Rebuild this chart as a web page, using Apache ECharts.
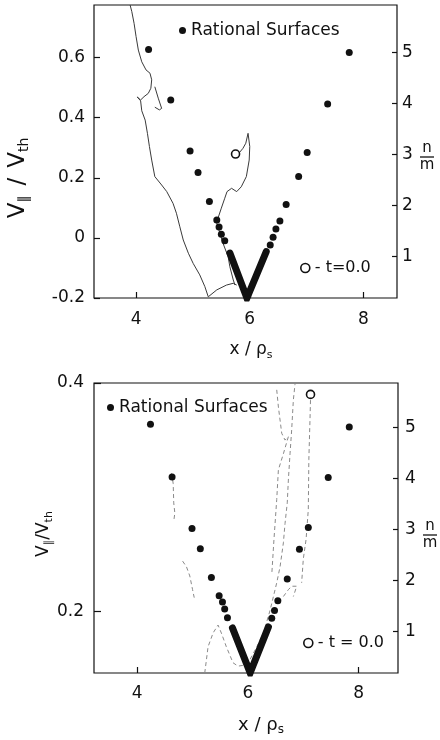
<!DOCTYPE html>
<html>
<head>
<meta charset="utf-8">
<script src="https://cdn.jsdelivr.net/npm/echarts@6/dist/echarts.min.js"></script>
<style>
  html, body { margin: 0; padding: 0; background: #fff; }
  #chart { width: 440px; height: 740px; }
</style>
</head>
<body>
<div id="chart"></div>
<script>
// ---- data ----
// top panel: rational surfaces (x/rho_s, n/m)
const topDots = [
  [4.22, 5.06], [4.61, 4.07], [4.95, 3.07], [5.09, 2.65], [5.29, 2.08],
  [5.42, 1.72], [5.46, 1.58], [5.50, 1.44], [5.56, 1.31],
  [6.36, 1.23], [6.41, 1.38], [6.46, 1.54], [6.53, 1.70], [6.64, 2.02],
  [6.86, 2.57], [7.01, 3.04], [7.37, 3.99], [7.75, 5.0]
]
// dense run of surfaces near the minimum (drawn as a thick V)
const topV = [[5.65, 1.07], [5.95, 0.19], [6.29, 1.10]]
// particle traces (x/rho_s, V||/Vth)
const topTraceA = [
  [3.895, 0.775], [3.925, 0.753], [3.965, 0.714], [4.0, 0.670], [4.04, 0.625],
  [4.10, 0.586], [4.175, 0.559], [4.245, 0.548], [4.275, 0.526], [4.26, 0.498],
  [4.215, 0.481], [4.14, 0.470], [4.08, 0.459], [4.02, 0.469], [4.08, 0.456],
  [4.10, 0.423], [4.16, 0.392], [4.20, 0.348], [4.235, 0.304], [4.275, 0.259],
  [4.33, 0.204], [4.45, 0.176], [4.54, 0.154], [4.65, 0.115], [4.71, 0.082],
  [4.77, 0.037], [4.83, -0.007], [4.92, -0.051], [5.005, -0.085], [5.12, -0.123],
  [5.21, -0.162], [5.27, -0.196], [5.30, -0.196], [5.42, -0.173], [5.59, -0.157],
  [5.71, -0.151], [5.77, -0.157]
]
const topHook = [[4.33, 0.503], [4.39, 0.465], [4.45, 0.431], [4.41, 0.426], [4.33, 0.435]]
const topTraceB = [
  [5.75, 0.279], [5.81, 0.282], [5.88, 0.298], [5.93, 0.315], [5.97, 0.348],
  [6.0, 0.304], [5.99, 0.259], [5.94, 0.204], [5.85, 0.170], [5.77, 0.154],
  [5.68, 0.165], [5.60, 0.154], [5.56, 0.132], [5.50, 0.099], [5.44, 0.065],
  [5.42, 0.049], [5.53, -0.018], [5.62, -0.063], [5.65, -0.096], [5.71, -0.140],
  [5.74, -0.157]
]
const topStart = [[5.75, 0.279]]

// bottom panel
const botDots = [
  [4.24, 5.06], [4.63, 4.03], [4.99, 3.02], [5.14, 2.62], [5.34, 2.06],
  [5.48, 1.70], [5.54, 1.58], [5.58, 1.44], [5.63, 1.27],
  [6.43, 1.26], [6.48, 1.41], [6.54, 1.60], [6.71, 2.03],
  [6.93, 2.61], [7.09, 3.04], [7.45, 4.02], [7.83, 5.01]
]
const botV = [[5.72, 1.07], [6.04, 0.19], [6.37, 1.09]]
const botTraceP = [
  [5.22, 0.146], [5.28, 0.169], [5.37, 0.181], [5.46, 0.188], [5.52, 0.181],
  [5.61, 0.169], [5.73, 0.155], [5.82, 0.152], [5.95, 0.153], [6.04, 0.158],
  [6.16, 0.169], [6.28, 0.181], [6.40, 0.201], [6.52, 0.225], [6.58, 0.239],
  [6.64, 0.260], [6.67, 0.277], [6.71, 0.295], [6.73, 0.315], [6.76, 0.338],
  [6.79, 0.359], [6.82, 0.385], [6.85, 0.399]
]
const botTraceQ = [[7.13, 0.385], [7.12, 0.367], [7.10, 0.333], [7.09, 0.289], [7.05, 0.263], [7.00, 0.246], [6.97, 0.225]]
const botTraceR = [
  [6.52, 0.394], [6.55, 0.379], [6.61, 0.356], [6.67, 0.350], [6.73, 0.353],
  [6.64, 0.338], [6.55, 0.324], [6.52, 0.298], [6.47, 0.263], [6.43, 0.232]
]
const botTraceS = [[4.62, 0.321], [4.65, 0.312], [4.66, 0.295], [4.68, 0.286], [4.66, 0.279]]
const botTraceT = [[4.82, 0.244], [4.89, 0.239], [4.95, 0.231], [5.0, 0.219], [5.03, 0.212]]
const botTraceU = [[6.64, 0.213], [6.73, 0.219], [6.79, 0.222], [6.88, 0.222], [6.82, 0.213]]
const botStart = [[7.13, 0.390]]

// tick labels
const xTicks = [4, 6, 8]
const topLeftTicks = [-0.2, 0, 0.2, 0.4, 0.6]
const botLeftTicks = [0.2, 0.4]
const nmTicks = [1, 2, 3, 4, 5]

const FONT = 'DejaVu Sans'
const INK = '#111'

function valueAxis(extra) {
  return Object.assign({
    type: 'value',
    axisLine: { show: false, onZero: false },
    splitLine: { show: false },
  }, extra)
}

function ticks(values, len) {
  return { inside: true, length: len, customValues: values, lineStyle: { color: INK, width: 1.2 } }
}

function labels(values, margin, extra) {
  return Object.assign({ color: INK, fontSize: 17, fontFamily: FONT, margin, customValues: values }, extra)
}

function traceSeries(data, yAxisIndex, xAxisIndex, faint) {
  return {
    type: 'line',
    xAxisIndex,
    yAxisIndex,
    data,
    showSymbol: false,
    silent: true,
    lineStyle: faint
      ? { width: 1, color: '#8a8a8a', type: [4, 3] }
      : { width: 1, color: '#3a3a3a' },
    z: 1,
  }
}

function dotSeries(data, xAxisIndex, yAxisIndex) {
  return {
    name: 'Rational Surfaces',
    type: 'scatter',
    xAxisIndex,
    yAxisIndex,
    data,
    symbolSize: 7,
    itemStyle: { color: INK, opacity: 1 },
    z: 3,
  }
}

function vSeries(data, xAxisIndex, yAxisIndex) {
  return {
    name: 'dense',
    type: 'line',
    xAxisIndex,
    yAxisIndex,
    data,
    showSymbol: false,
    lineStyle: { width: 7, color: INK, cap: 'round', join: 'miter' },
    z: 3,
  }
}

function startSeries(data, xAxisIndex, yAxisIndex) {
  return {
    name: 't=0.0',
    type: 'scatter',
    xAxisIndex,
    yAxisIndex,
    data,
    symbol: 'circle',
    symbolSize: 8,
    itemStyle: { color: '#fff', borderColor: INK, borderWidth: 1.6, opacity: 1 },
    z: 4,
  }
}

function legendDots(left, top) {
  return {
    data: ['Rational Surfaces'],
    left, top,
    icon: 'circle',
    itemWidth: 7, itemHeight: 7,
    textStyle: { color: INK, fontSize: 17, fontFamily: FONT },
    selectedMode: false,
  }
}

function legendStart(left, top, text) {
  return {
    data: ['t=0.0'],
    left, top,
    icon: 'circle',
    itemWidth: 9, itemHeight: 9,
    itemStyle: { color: '#fff', borderColor: INK, borderWidth: 1.6 },
    formatter: () => text,
    textStyle: { color: INK, fontSize: 16, fontFamily: FONT },
    selectedMode: false,
  }
}

const richTitle = (big, small) => ({
  v: { fontSize: big, fontFamily: FONT, fill: INK, lineHeight: big + 4 },
  s: { fontSize: small, fontFamily: FONT, fill: INK, lineHeight: small, verticalAlign: 'bottom' },
})

function fraction(x, y) {
  return {
    type: 'group', x, y,
    children: [
      { type: 'text', style: { text: 'n', x: 0, y: -1, align: 'center', verticalAlign: 'bottom', fontSize: 15, fontFamily: FONT, fill: INK } },
      { type: 'line', shape: { x1: -7, y1: 0, x2: 7, y2: 0 }, style: { stroke: INK, lineWidth: 1.3 } },
      { type: 'text', style: { text: 'm', x: 0, y: 1, align: 'center', verticalAlign: 'top', fontSize: 15, fontFamily: FONT, fill: INK } },
    ],
  }
}

const option = {
  animation: false,
  backgroundColor: '#fff',
  grid: [
    { left: 94, top: 5, width: 303, height: 293, show: true, borderColor: INK, borderWidth: 1.2, backgroundColor: 'transparent' },
    { left: 94, top: 383, width: 304, height: 290, show: true, borderColor: INK, borderWidth: 1.2, backgroundColor: 'transparent' },
  ],
  xAxis: [
    valueAxis({ gridIndex: 0, min: 3.26, max: 8.59, axisTick: ticks(xTicks, 6), axisLabel: labels(xTicks, 13) }),
    valueAxis({ gridIndex: 1, min: 3.22, max: 8.71, axisTick: ticks(xTicks, 6), axisLabel: labels(xTicks, 12) }),
  ],
  yAxis: [
    valueAxis({
      gridIndex: 0, min: -0.2, max: 0.775,
      axisTick: ticks(topLeftTicks, 6),
      axisLabel: labels(topLeftTicks, 9, {
        formatter: (v) => (Math.abs(v) < 1e-9 ? '0' : String(Math.round(v * 10) / 10)),
      }),
    }),
    valueAxis({ gridIndex: 0, position: 'right', min: 0.19, max: 5.93, axisTick: ticks(nmTicks, 5), axisLabel: labels(nmTicks, 5) }),
    valueAxis({ gridIndex: 1, min: 0.146, max: 0.4, axisTick: ticks(botLeftTicks, 7), axisLabel: labels(botLeftTicks, 10) }),
    valueAxis({ gridIndex: 1, position: 'right', min: 0.186, max: 5.87, axisTick: ticks(nmTicks, 5), axisLabel: labels(nmTicks, 7) }),
  ],
  legend: [
    legendDots(174, 17),
    legendStart(295, 255, '- t=0.0'),
    legendDots(102, 394),
    legendStart(298, 630, '- t = 0.0'),
  ],
  series: [
    // ---- top panel ----
    traceSeries(topTraceA, 0, 0, false),
    traceSeries(topHook, 0, 0, false),
    traceSeries(topTraceB, 0, 0, false),
    dotSeries(topDots, 0, 1),
    vSeries(topV, 0, 1),
    startSeries(topStart, 0, 0),
    // ---- bottom panel ----
    traceSeries(botTraceP, 2, 1, true),
    traceSeries(botTraceQ, 2, 1, true),
    traceSeries(botTraceR, 2, 1, true),
    traceSeries(botTraceS, 2, 1, true),
    traceSeries(botTraceT, 2, 1, true),
    traceSeries(botTraceU, 2, 1, true),
    dotSeries(botDots, 1, 3),
    vSeries(botV, 1, 3),
    startSeries(botStart, 1, 2),
  ],
  graphic: [
    {
      type: 'text', x: 18, y: 178, rotation: Math.PI / 2,
      style: { text: '{v|V}{s|∥}   {v|/}   {v|V}{s|th}', align: 'center', verticalAlign: 'middle', rich: richTitle(23, 14) },
    },
    {
      type: 'text', x: 44, y: 534, rotation: Math.PI / 2,
      style: { text: '{v|V}{s|∥}{v|/}{v|V}{s|th}', align: 'center', verticalAlign: 'middle', rich: richTitle(17, 11) },
    },
    {
      type: 'text', x: 251, y: 350,
      style: { text: '{v|x / ρ}{s|s}', align: 'center', verticalAlign: 'middle', rich: richTitle(17, 11) },
    },
    {
      type: 'text', x: 261, y: 725,
      style: { text: '{v|x / ρ}{s|s}', align: 'center', verticalAlign: 'middle', rich: richTitle(18, 12) },
    },
    fraction(427, 157),
    fraction(430, 535),
  ],
}

const chart = echarts.init(document.getElementById('chart'), null, { renderer: 'canvas' })
chart.setOption(option)
</script>
</body>
</html>
